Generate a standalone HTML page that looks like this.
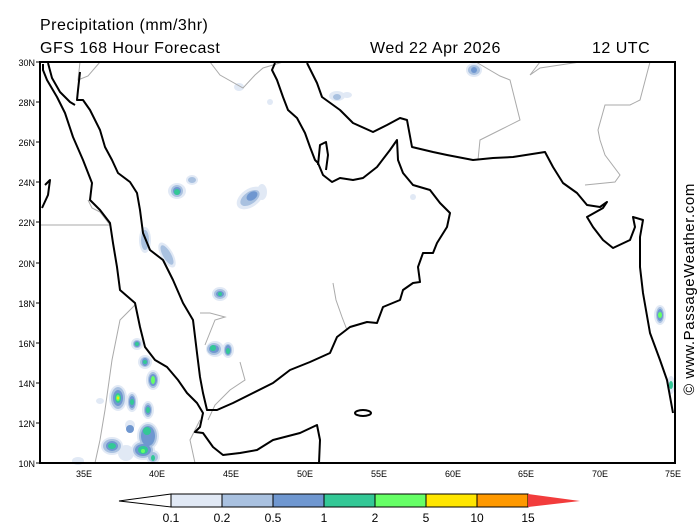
<!DOCTYPE html>
<html><head><meta charset="utf-8"><style>
html,body{margin:0;padding:0;background:#fff;}
svg{display:block;font-family:"Liberation Sans",sans-serif;}
</style></head><body>
<svg width="700" height="525" viewBox="0 0 700 525" xmlns="http://www.w3.org/2000/svg">
<rect width="700" height="525" fill="#fff"/>
<text x="40" y="30" font-size="16" fill="#000" letter-spacing="0.5">Precipitation (mm/3hr)</text>
<text x="40" y="53" font-size="16" fill="#000" letter-spacing="0.5">GFS 168 Hour Forecast</text>
<text x="370" y="53" font-size="16" fill="#000" letter-spacing="0.5">Wed 22 Apr 2026</text>
<text x="592" y="53" font-size="16" fill="#000" letter-spacing="0.5">12 UTC</text>
<text transform="translate(694,395) rotate(-90)" font-size="15" fill="#000" letter-spacing="0.6">© www.PassageWeather.com</text>

<!-- precipitation -->
<g>
<g fill="#e1e9f5">
<ellipse cx="177" cy="191" rx="9" ry="8"/><ellipse cx="192" cy="180" rx="6" ry="5"/>
<ellipse cx="250" cy="198" rx="15" ry="9" transform="rotate(-35 250 198)"/>
<ellipse cx="145" cy="240" rx="6" ry="13"/><ellipse cx="167" cy="255" rx="6" ry="14" transform="rotate(-30 167 255)"/>
<ellipse cx="220" cy="294" rx="8" ry="7"/><ellipse cx="215" cy="349" rx="9" ry="8"/><ellipse cx="228" cy="350" rx="6" ry="8"/>
<ellipse cx="137" cy="344" rx="6" ry="6"/><ellipse cx="145" cy="362" rx="7" ry="7"/><ellipse cx="153" cy="380" rx="7" ry="10"/>
<ellipse cx="118" cy="398" rx="9" ry="13"/><ellipse cx="132" cy="402" rx="6" ry="10"/><ellipse cx="148" cy="410" rx="6" ry="9"/>
<ellipse cx="148" cy="436" rx="11" ry="14"/><ellipse cx="143" cy="450" rx="12" ry="10"/><ellipse cx="112" cy="446" rx="11" ry="9"/>
<ellipse cx="126" cy="453" rx="8" ry="8"/><ellipse cx="153" cy="457" rx="7" ry="7"/><ellipse cx="78" cy="461" rx="6" ry="4"/>
<ellipse cx="130" cy="425" rx="5" ry="5"/><ellipse cx="100" cy="401" rx="4" ry="3"/>
<ellipse cx="660" cy="315" rx="6" ry="10"/><ellipse cx="671" cy="385" rx="4" ry="9"/>
<ellipse cx="474" cy="70" rx="8" ry="7"/><ellipse cx="337" cy="96" rx="8" ry="5"/><ellipse cx="239" cy="87" rx="5" ry="4"/>
<ellipse cx="270" cy="102" rx="3" ry="3"/><ellipse cx="262" cy="192" rx="5" ry="8"/><ellipse cx="413" cy="197" rx="3" ry="3"/>
<ellipse cx="347" cy="95" rx="5" ry="3"/>
</g>
<g fill="#a9c1e0">
<ellipse cx="177" cy="191" rx="6" ry="6"/><ellipse cx="192" cy="180" rx="4" ry="3"/>
<ellipse cx="250" cy="198" rx="11" ry="6" transform="rotate(-35 250 198)"/>
<ellipse cx="145" cy="240" rx="4" ry="10"/><ellipse cx="167" cy="255" rx="4" ry="11" transform="rotate(-30 167 255)"/>
<ellipse cx="220" cy="294" rx="6" ry="5"/><ellipse cx="214" cy="349" rx="7" ry="6"/><ellipse cx="228" cy="350" rx="4" ry="6"/>
<ellipse cx="137" cy="344" rx="4" ry="4"/><ellipse cx="145" cy="362" rx="5" ry="5"/><ellipse cx="153" cy="380" rx="5" ry="8"/>
<ellipse cx="118" cy="398" rx="7" ry="11"/><ellipse cx="132" cy="402" rx="4" ry="8"/><ellipse cx="148" cy="410" rx="4" ry="7"/>
<ellipse cx="148" cy="436" rx="9" ry="12"/><ellipse cx="143" cy="450" rx="10" ry="8"/><ellipse cx="112" cy="446" rx="9" ry="7"/>
<ellipse cx="153" cy="457" rx="5" ry="5"/><ellipse cx="660" cy="315" rx="4" ry="8"/><ellipse cx="474" cy="70" rx="6" ry="5"/>
<ellipse cx="337" cy="97" rx="4" ry="3"/>
</g>
<g fill="#6f97d0">
<ellipse cx="177" cy="191" rx="4" ry="4"/>
<ellipse cx="252" cy="196" rx="6" ry="4" transform="rotate(-35 252 196)"/>
<ellipse cx="220" cy="294" rx="4" ry="3"/><ellipse cx="214" cy="349" rx="5" ry="4"/><ellipse cx="228" cy="350" rx="3" ry="5"/>
<ellipse cx="137" cy="344" rx="3" ry="3"/><ellipse cx="145" cy="362" rx="3" ry="4"/><ellipse cx="153" cy="380" rx="4" ry="6"/>
<ellipse cx="118" cy="398" rx="5" ry="8"/><ellipse cx="132" cy="402" rx="3" ry="6"/><ellipse cx="148" cy="410" rx="3" ry="5"/>
<ellipse cx="148" cy="436" rx="7" ry="10"/><ellipse cx="143" cy="450" rx="8" ry="6"/><ellipse cx="112" cy="446" rx="6" ry="5"/>
<ellipse cx="660" cy="315" rx="3" ry="6"/><ellipse cx="474" cy="70" rx="3" ry="3"/><ellipse cx="130" cy="429" rx="4" ry="4"/>
</g>
<g fill="#33c896">
<ellipse cx="177" cy="192" rx="3" ry="3"/><ellipse cx="220" cy="294" rx="2" ry="2"/><ellipse cx="213" cy="348" rx="3" ry="3"/>
<ellipse cx="228" cy="351" rx="2" ry="3"/><ellipse cx="137" cy="344" rx="2" ry="2"/><ellipse cx="145" cy="362" rx="2" ry="2"/>
<ellipse cx="118" cy="398" rx="3" ry="5"/><ellipse cx="132" cy="402" rx="2" ry="3"/><ellipse cx="148" cy="410" rx="2" ry="3"/>
<ellipse cx="147" cy="431" rx="4" ry="4"/><ellipse cx="143" cy="450" rx="5" ry="4"/><ellipse cx="112" cy="446" rx="4" ry="3"/>
<ellipse cx="153" cy="458" rx="2" ry="3"/><ellipse cx="671" cy="385" rx="2" ry="4"/>
</g>
<g fill="#66ff66">
<ellipse cx="153" cy="380" rx="2" ry="4"/><ellipse cx="118" cy="398" rx="2" ry="3"/><ellipse cx="660" cy="315" rx="2" ry="3"/>
<ellipse cx="143" cy="451" rx="2" ry="2"/>
</g>
<ellipse cx="118" cy="398" rx="1" ry="1.5" fill="#ffe600"/>
</g>

<!-- borders -->
<g fill="none" stroke="#aaa" stroke-width="1">
<polyline points="40,225 110,225 100,212 92,208 88,200"/>
<polyline points="80,62 78,80 88,76 100,62"/>
<polyline points="210,62 220,75 243,88 255,75 263,68 283,62"/>
<polyline points="476,62 500,76 510,80 520,120 500,130 480,140 478,160"/>
<polyline points="540,62 530,75 540,68 580,62"/>
<polyline points="650,62 640,100 630,105 605,105 598,130 600,140 605,155 620,175 615,182 585,185"/>
<polyline points="333,283 336,300 342,317 347,330"/>
<polyline points="200,313 210,313 225,317 215,320 205,345"/>
<polyline points="240,362 245,380 230,390 215,405 208,420"/>
<polyline points="135,305 120,320 112,360 105,410 100,440 95,463"/>
<polyline points="200,420 190,440 195,463"/>
</g>

<!-- coastlines -->
<g fill="none" stroke="#000" stroke-width="2" stroke-linejoin="round">
<polyline points="43,64 43,70 47,80 57,97 65,113 73,137 83,160 92,183 90,200 100,210 110,223 113,243 117,267 120,290 135,303 140,327 145,347 155,360 167,367 178,380 187,393 197,403 203,413 200,427 195,432 203,433 213,447 223,455 240,453 257,450 273,440 300,433 317,425 320,440 319,463"/>
<polyline points="48,63 52,78 60,92 70,102 75,105"/>
<polyline points="80,72 78,90 77,100 83,100 90,110 100,130 105,147 112,160 118,173 130,182 137,193 140,210 143,233 150,250 163,260 173,280 183,303 193,320 197,353 200,377 203,393 207,410 217,410 233,403 253,393 273,383 290,370 310,362 330,353 337,337 350,327 367,322 377,323 383,307 400,300 403,290 413,283 420,282 418,267 423,253 433,253 437,243 447,227 450,213 440,203 430,190 413,185 403,173 398,160 397,140 390,150 377,167 363,178 353,180 340,178 332,182 323,175 318,163 315,160 310,147 305,133 297,118 288,110 283,97 277,80 272,70 275,63"/>
<polyline points="318,165 320,145 326,142 328,155 326,170"/>
<polyline points="307,63 317,83 322,97 340,110 353,123 373,132 387,125 400,118 407,120 412,147 433,152 447,155 473,160 493,158 513,157 545,152 553,167 563,183 577,193 587,205 600,207 607,202 603,208 587,217 593,227 603,240 613,248 630,240 635,227 633,217 643,220 640,237 640,267 643,293 650,333 660,360 667,380 673,413"/>
<ellipse cx="363" cy="413" rx="8" ry="3"/>
<polyline points="45,185 50,180 48,195 42,208"/>
</g>

<!-- frame -->
<rect x="40" y="62" width="635" height="401" fill="none" stroke="#000" stroke-width="2"/>
<g stroke="#000" stroke-width="1">
<line x1="36" y1="62" x2="40" y2="62"/><line x1="36" y1="102" x2="40" y2="102"/><line x1="36" y1="142" x2="40" y2="142"/>
<line x1="36" y1="182" x2="40" y2="182"/><line x1="36" y1="222" x2="40" y2="222"/><line x1="36" y1="263" x2="40" y2="263"/>
<line x1="36" y1="303" x2="40" y2="303"/><line x1="36" y1="343" x2="40" y2="343"/><line x1="36" y1="383" x2="40" y2="383"/>
<line x1="36" y1="423" x2="40" y2="423"/><line x1="36" y1="463" x2="40" y2="463"/>
</g>
<g font-size="9" text-anchor="end" fill="#000">
<text x="35" y="66">30N</text><text x="35" y="106">28N</text><text x="35" y="146">26N</text><text x="35" y="186">24N</text>
<text x="35" y="226">22N</text><text x="35" y="267">20N</text><text x="35" y="307">18N</text><text x="35" y="347">16N</text>
<text x="35" y="387">14N</text><text x="35" y="427">12N</text><text x="35" y="467">10N</text>
</g>
<g font-size="9" text-anchor="middle" fill="#000">
<text x="84" y="477">35E</text><text x="157" y="477">40E</text><text x="231" y="477">45E</text><text x="305" y="477">50E</text>
<text x="379" y="477">55E</text><text x="453" y="477">60E</text><text x="526" y="477">65E</text><text x="600" y="477">70E</text><text x="673" y="477">75E</text>
</g>

<!-- colorbar -->
<g stroke="#000" stroke-width="1">
<polygon points="171,494 119,501 171,507" fill="#fff"/>
<rect x="171" y="494" width="51" height="13" fill="#e1e9f5"/>
<rect x="222" y="494" width="51" height="13" fill="#a9c1e0"/>
<rect x="273" y="494" width="51" height="13" fill="#6f97d0"/>
<rect x="324" y="494" width="51" height="13" fill="#33c896"/>
<rect x="375" y="494" width="51" height="13" fill="#66ff66"/>
<rect x="426" y="494" width="51" height="13" fill="#ffe600"/>
<rect x="477" y="494" width="51" height="13" fill="#ff9900"/>
<polygon points="528,494 580,501 528,507" fill="#f23c3c" stroke="none"/>
</g>
<g font-size="12" text-anchor="middle" fill="#000">
<text x="171" y="522">0.1</text><text x="222" y="522">0.2</text><text x="273" y="522">0.5</text><text x="324" y="522">1</text>
<text x="375" y="522">2</text><text x="426" y="522">5</text><text x="477" y="522">10</text><text x="528" y="522">15</text>
</g>
</svg>
</body></html>
